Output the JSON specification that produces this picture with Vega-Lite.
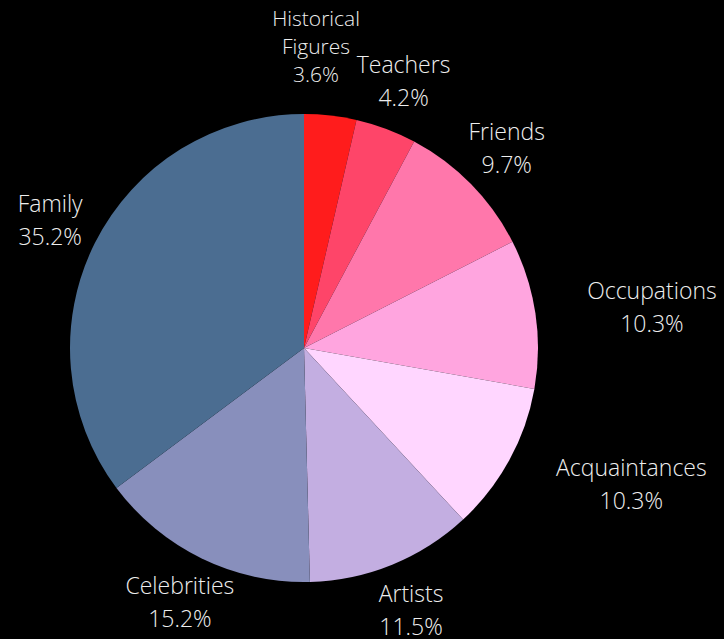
{
  "$schema": "https://vega.github.io/schema/vega-lite/v6.json",
  "width": 608,
  "height": 582,
  "autosize": {"type": "none"},
  "padding": {"left": 0, "top": 57, "right": 116, "bottom": 0},
  "background": "#000000",
  "config": {"view": {"stroke": null}},
  "data": {
    "values": [
      {"rank": 1, "category": "Historical Figures", "label": "Historical\nFigures\n3.6%", "value": 3.6},
      {"rank": 2, "category": "Teachers", "label": "Teachers\n4.2%", "value": 4.2},
      {"rank": 3, "category": "Friends", "label": "Friends\n9.7%", "value": 9.7},
      {"rank": 4, "category": "Occupations", "label": "Occupations\n10.3%", "value": 10.3},
      {"rank": 5, "category": "Acquaintances", "label": "Acquaintances\n10.3%", "value": 10.3},
      {"rank": 6, "category": "Artists", "label": "Artists\n11.5%", "value": 11.5},
      {"rank": 7, "category": "Celebrities", "label": "Celebrities\n15.2%", "value": 15.2},
      {"rank": 8, "category": "Family", "label": "Family\n35.2%", "value": 35.2}
    ]
  },
  "encoding": {
    "theta": {"field": "value", "type": "quantitative", "stack": true},
    "order": {"field": "rank", "type": "quantitative"}
  },
  "layer": [
    {
      "mark": {"type": "arc", "radius": 234},
      "encoding": {
        "color": {
          "field": "category",
          "type": "nominal",
          "legend": null,
          "scale": {
            "domain": ["Historical Figures", "Teachers", "Friends", "Occupations", "Acquaintances", "Artists", "Celebrities", "Family"],
            "range": ["#ff1c1c", "#fe4569", "#ff77ab", "#ffa5df", "#ffd6ff", "#c3aee1", "#888fbc", "#4b6d91"]
          }
        }
      }
    },
    {
      "mark": {
        "type": "text", "radius": 284, "font": "Open Sans", "fontWeight": 300,
        "fontSize": 23, "align": "center", "baseline": "middle", "color": "#eeeeee",
        "lineBreak": "\n", "lineHeight": 33, "dy": -16
      },
      "encoding": {
        "text": {
          "condition": {"test": "datum.category !== 'Historical Figures' && datum.category !== 'Occupations' && datum.category !== 'Acquaintances'", "field": "label"},
          "value": ""
        }
      }
    },
    {
      "mark": {
        "type": "text", "radius": 284, "font": "Open Sans", "fontWeight": 300,
        "fontSize": 21, "align": "center", "baseline": "middle", "color": "#eeeeee",
        "lineBreak": "\n", "lineHeight": 28, "dx": -20, "dy": -46
      },
      "encoding": {
        "text": {
          "condition": {"test": "datum.category === 'Historical Figures'", "field": "label"},
          "value": ""
        }
      }
    },
    {
      "mark": {
        "type": "text", "radius": 284, "font": "Open Sans", "fontWeight": 300,
        "fontSize": 23, "align": "center", "baseline": "middle", "color": "#eeeeee",
        "lineBreak": "\n", "lineHeight": 33, "dx": 67, "dy": -14
      },
      "encoding": {
        "text": {
          "condition": {"test": "datum.category === 'Occupations'", "field": "label"},
          "value": ""
        }
      }
    },
    {
      "mark": {
        "type": "text", "radius": 284, "font": "Open Sans", "fontWeight": 300,
        "fontSize": 23, "align": "center", "baseline": "middle", "color": "#eeeeee",
        "lineBreak": "\n", "lineHeight": 33, "dx": 78, "dy": -15
      },
      "encoding": {
        "text": {
          "condition": {"test": "datum.category === 'Acquaintances'", "field": "label"},
          "value": ""
        }
      }
    }
  ]
}
